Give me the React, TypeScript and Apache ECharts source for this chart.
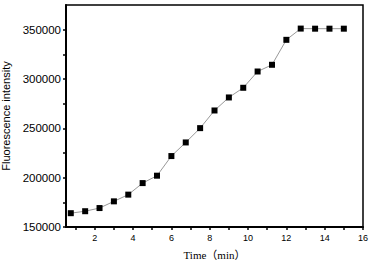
import React, { useEffect, useRef } from "react";
import * as echarts from "echarts";

const timeMin = [0.75, 1.5, 2.25, 3, 3.75, 4.5, 5.25, 6, 6.75, 7.5, 8.25, 9, 9.75, 10.5, 11.25, 12, 12.75, 13.5, 14.25, 15];
const intensity = [164000, 166000, 169200, 176000, 182800, 194500, 202000, 221900, 235700, 250200, 268100, 281300, 291100, 307600, 314400, 339700, 351100, 351000, 351000, 351000];
const xTickLabels = [2, 4, 6, 8, 10, 12, 14, 16];
const xTicks = [1, 2, 3, 4, 5, 6, 7, 8, 9, 10, 11, 12, 13, 14, 15, 16];
const yTickLabels = [150000, 200000, 250000, 300000, 350000];
const yTicks = [150000, 175000, 200000, 225000, 250000, 275000, 300000, 325000, 350000];

export default function App() {
  const ref = useRef<HTMLDivElement>(null);
  useEffect(() => {
    if (!ref.current) return;
    const chart = echarts.init(ref.current, undefined, { renderer: "svg" });
    chart.setOption({
      animation: false,
      backgroundColor: "#fff",
      grid: {
        left: 66,
        top: 5,
        right: 8,
        bottom: 36,
        containLabel: false,
        outerBoundsMode: "none",
        show: true,
        borderColor: "#000",
        borderWidth: 1.5,
      },
      xAxis: {
        type: "value",
        min: 0.5,
        max: 16,
        interval: 0.5,
        name: "Time（min）",
        nameLocation: "middle",
        nameGap: 22,
        nameTextStyle: { fontFamily: "Liberation Serif, Noto Sans CJK SC, serif", fontSize: 11, color: "#000" },
        axisLine: { show: true, onZero: false, lineStyle: { color: "#000", width: 2 } },
        axisTick: { show: true, inside: false, length: 3, customValues: xTicks, lineStyle: { color: "#000", width: 1.5 } },
        axisLabel: { customValues: xTickLabels, fontSize: 9, color: "#000", margin: 6, fontFamily: "Liberation Sans, Arial, sans-serif", formatter: (v: number) => String(v) },
        splitLine: { show: false },
      },
      yAxis: {
        type: "value",
        min: 150000,
        max: 375000,
        name: "Fluorescence intensity",
        nameLocation: "middle",
        nameGap: 45,
        nameRotate: 90,
        nameTextStyle: { fontFamily: "Liberation Sans, Arial, sans-serif", fontSize: 11, color: "#000" },
        axisLine: { show: true, onZero: false, lineStyle: { color: "#000", width: 2 } },
        axisTick: { show: true, inside: false, length: 3, customValues: yTicks, lineStyle: { color: "#000", width: 1.5 } },
        axisLabel: { customValues: yTickLabels, fontSize: 11.5, color: "#000", margin: 5, fontFamily: "Liberation Sans, Arial, sans-serif", formatter: (v: number) => String(v) },
        splitLine: { show: false },
      },
      series: [
        {
          type: "line",
          data: timeMin.map((t, i) => [t, intensity[i]]),
          symbol: "rect",
          symbolSize: 6,
          itemStyle: { color: "#000" },
          lineStyle: { color: "#999", width: 1 },
        },
      ],
    });
    return () => chart.dispose();
  }, []);
  return <div ref={ref} style={{ width: 371, height: 263, position: "absolute", left: 0, top: 0 }} />;
}
